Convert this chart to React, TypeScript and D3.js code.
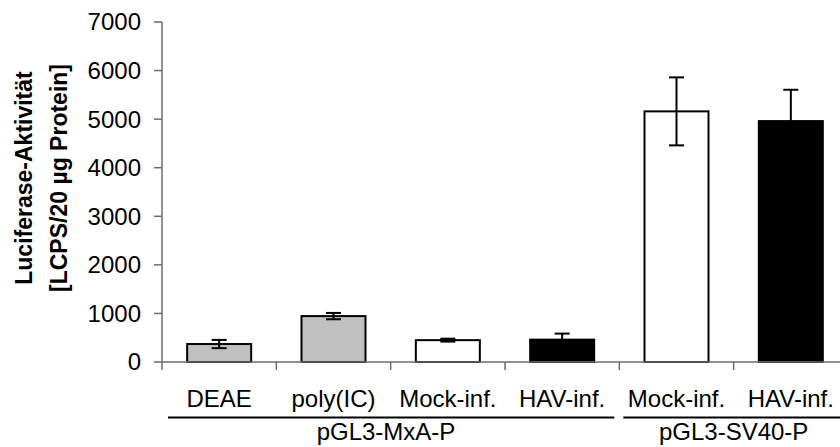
import React from "react";
import * as d3 from "d3";

// Luciferase activity per treatment, two reporter constructs
const categories = ["DEAE", "poly(IC)", "Mock-inf.", "HAV-inf.", "Mock-inf.", "HAV-inf."];
const values = [370, 945, 450, 460, 5160, 4960];
const errors = [85, 65, 30, 125, 700, 645];
const groupLabels = ["pGL3-MxA-P", "pGL3-SV40-P"];
const groupStart = [0, 4];
const groupEnd = [3, 5];
const yTicks = [0, 1000, 2000, 3000, 4000, 5000, 6000, 7000];

const barFills = ["#c0c0c0", "#c0c0c0", "#ffffff", "#000000", "#ffffff", "#000000"];

const W = 840;
const H = 447;
const FONT = "'Liberation Sans', Arial, Helvetica, sans-serif";

export default function App() {
  const x = d3
    .scaleBand<number>()
    .domain(categories.map((_, i) => i))
    .range([162, 848])
    .paddingInner(0.44)
    .paddingOuter(0.22);
  const step = x.step();
  const x0 = 162;
  const bandLeft = (i: number) => x0 + i * step;
  const bandCenter = (i: number) => bandLeft(i) + step / 2;
  const bw = 64;

  const y = d3.scaleLinear().domain([0, 7000]).range([362, 22]);
  const axisColor = "#6e6e6e";

  return (
    <svg
      width={W}
      height={H}
      style={{ position: "absolute", left: 0, top: 0, background: "#fff" }}
      fontFamily={FONT}
    >
      {/* y axis */}
      <line x1={x0} x2={x0} y1={y(7000)} y2={y(0) + 8} stroke={axisColor} strokeWidth={1.5} />
      {yTicks.map((t) => (
        <g key={t}>
          <line x1={x0 - 8} x2={x0} y1={y(t)} y2={y(t)} stroke={axisColor} strokeWidth={1.5} />
          <text x={141} y={y(t)} dy="0.35em" textAnchor="end" fontSize={24} fill="#000">
            {t}
          </text>
        </g>
      ))}

      {/* y axis title */}
      <g transform={`translate(0, 178) rotate(-90)`}>
        <text x={0} y={32} textAnchor="middle" fontSize={23} fontWeight="bold" fill="#000">
          Luciferase-Aktivität
        </text>
        <text x={0} y={67} textAnchor="middle" fontSize={23} fontWeight="bold" fill="#000">
          [LCPS/20 µg Protein]
        </text>
      </g>

      {/* bars */}
      {values.map((v, i) => (
        <rect
          key={i}
          x={bandCenter(i) - bw / 2}
          y={y(v)}
          width={bw}
          height={y(0) - y(v)}
          fill={barFills[i]}
          stroke="#000"
          strokeWidth={2}
        />
      ))}

      {/* x axis */}
      <line x1={x0} x2={W} y1={y(0)} y2={y(0)} stroke={axisColor} strokeWidth={1.5} />
      {categories.map((_, i) =>
        i === 0 ? null : (
          <line
            key={i}
            x1={bandLeft(i)}
            x2={bandLeft(i)}
            y1={y(0)}
            y2={y(0) + 8}
            stroke={axisColor}
            strokeWidth={1.5}
          />
        )
      )}

      {/* error bars */}
      {values.map((v, i) => {
        const cx = bandCenter(i);
        const hi = y(v + errors[i]);
        const lo = y(v - errors[i]);
        return (
          <g key={i} stroke="#000" strokeWidth={2}>
            <line x1={cx} x2={cx} y1={hi} y2={lo} />
            <line x1={cx - 7.5} x2={cx + 7.5} y1={hi} y2={hi} />
            <line x1={cx - 7.5} x2={cx + 7.5} y1={lo} y2={lo} />
          </g>
        );
      })}

      {/* category labels */}
      {categories.map((c, i) => (
        <text key={i} x={bandCenter(i)} y={407} textAnchor="middle" fontSize={24} fill="#000">
          {c}
        </text>
      ))}

      {/* group brackets */}
      {groupLabels.map((g, k) => {
        const left = bandLeft(groupStart[k]) + (k === 0 ? 6 : 4);
        const right = Math.min(bandLeft(groupEnd[k] + 1) - 5, W);
        const mid = k === 0 ? 386 : (bandLeft(groupStart[k]) + bandLeft(groupEnd[k] + 1)) / 2;
        return (
          <g key={g}>
            <line x1={left} x2={k === 1 ? W : right} y1={417.5} y2={417.5} stroke="#000" strokeWidth={1.8} />
            <text x={mid} y={440} textAnchor="middle" fontSize={24} fill="#000">
              {g}
            </text>
          </g>
        );
      })}
    </svg>
  );
}
